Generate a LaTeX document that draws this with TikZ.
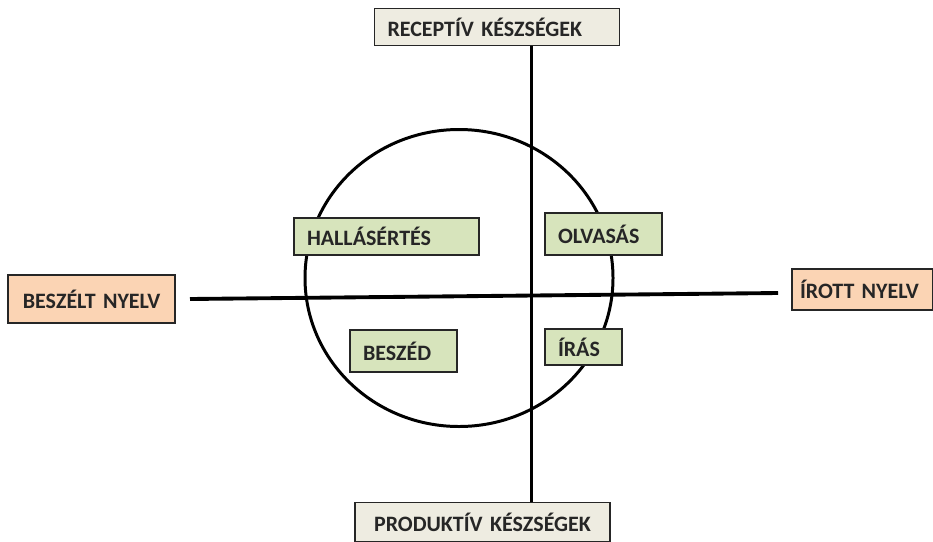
\documentclass[tikz,border=0pt]{standalone}
\usepackage{fontspec}
\setmainfont{Carlito}
\definecolor{skillbg}{HTML}{EEECE1}
\definecolor{langbg}{HTML}{FBD4B4}
\definecolor{actbg}{HTML}{D7E4BC}
\tikzset{
	box/.style={draw=black!85, line width=0.8pt, inner xsep=0.26cm, align=left,
		font=\fontsize{12.5}{14}\selectfont\bfseries, text=black!85},
	skill/.style={box, fill=skillbg},
	lang/.style={box, fill=langbg},
	act/.style={box, fill=actbg}
}
\begin{document}
\begin{tikzpicture}
			\useasboundingbox (0,0) rectangle (18.66,-10.82);
			\coordinate (vx) at (10.63,0);
			\coordinate (hl) at (3.8,-5.98);
			\coordinate (hr) at (15.56,-5.86);
			\coordinate (c) at (9.18,-5.56);
			\draw[line width=1.7pt] (c) ellipse (3.08 and 2.97);
			\node[skill, minimum height=0.74cm, text width=4.38cm] (rec) at (9.94,-0.54) {RECEPTÍV KÉSZSÉGEK};
			\node[skill, minimum height=0.78cm, text width=4.58cm, align=center] (prod) at (9.65,-10.44) {PRODUKTÍV KÉSZSÉGEK};
			\draw[line width=2.2pt] (rec.south -| vx) to (prod.north -| vx);
			\draw[line width=2.2pt] (hl) to (hr);
			\node[lang, minimum height=0.96cm, text width=2.82cm, align=center] (besz) at (1.83,-5.98) {BESZÉLT NYELV};
			\node[lang, minimum height=0.82cm, text width=2.5cm, inner xsep=0.16cm] (irott) at (17.25,-5.79) {ÍROTT NYELV};
			\node[act, minimum height=0.74cm, text width=3.18cm] (hall) at (7.73,-4.73) {HALLÁSÉRTÉS};
			\node[act, minimum height=0.84cm, text width=1.82cm] (olv) at (12.07,-4.68) {OLVASÁS};
			\node[act, minimum height=0.84cm, text width=1.62cm] (beszed) at (8.07,-7.02) {BESZÉD};
			\node[act, minimum height=0.72cm, text width=1.02cm] (iras) at (11.67,-6.94) {ÍRÁS};
		\end{tikzpicture}
\end{document}
